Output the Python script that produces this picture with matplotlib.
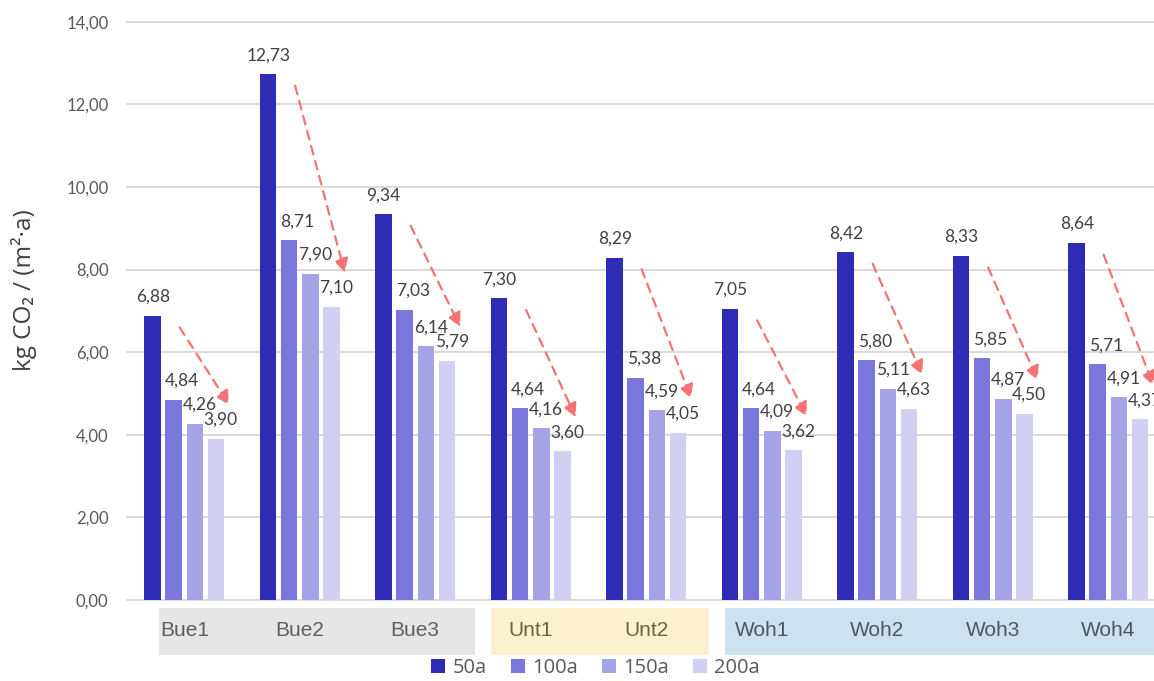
import matplotlib
matplotlib.use("Agg")
import matplotlib.pyplot as plt
from matplotlib.patches import Patch, Rectangle

plt.rcParams["font.family"] = ["Lato", "DejaVu Sans"]

# Embodied emissions per building and reference period
buildings = ["Bue1", "Bue2", "Bue3", "Unt1", "Unt2", "Woh1", "Woh2", "Woh3", "Woh4"]
periods = ["50a", "100a", "150a", "200a"]
v50 = [6.88, 12.73, 9.34, 7.30, 8.29, 7.05, 8.42, 8.33, 8.64]
v100 = [4.84, 8.71, 7.03, 4.64, 5.38, 4.64, 5.80, 5.85, 5.71]
v150 = [4.26, 7.90, 6.14, 4.16, 4.59, 4.09, 5.11, 4.87, 4.91]
v200 = [3.90, 7.10, 5.79, 3.60, 4.05, 3.62, 4.63, 4.50, 4.37]
series = [v50, v100, v150, v200]

y_ticks = [0, 2, 4, 6, 8, 10, 12, 14]

colors = ["#2E2BB5", "#7A77DC", "#A6A4E6", "#D1D0F2"]
label_dx = [0, 8, 5, 5]  # px shift of the value labels
group_style = {
    "Bue": dict(span=(-0.22, 2.52), face="#E6E6E6", text="#5E5E5E"),
    "Unt": dict(span=(2.66, 4.54), face="#FDF1CD", text="#6B6244"),
    "Woh": dict(span=(4.68, 9.5), face="#CDE2F0", text="#4B5661"),
}
arrow_color = "#F77272"


def fmt(v):
    return f"{v:.2f}".replace(".", ",")


W, H = 1154, 681
fig = plt.figure(figsize=(W / 100, H / 100), dpi=100)
ax_l, ax_r, ax_t, ax_b = 126.5, 1166.0, 21.7, 600.0
ax = fig.add_axes([ax_l / W, 1 - ax_b / H, (ax_r - ax_l) / W, (ax_b - ax_t) / H])

step = 0.182
width = 0.143
x = list(range(len(buildings)))
for i, (vals, c) in enumerate(zip(series, colors)):
    xs = [k + (i - 1.5) * step for k in x]
    ax.bar(xs, vals, width=width, color=c, zorder=3, label=periods[i])
    for xi, v in zip(xs, vals):
        ax.annotate(fmt(v), (xi, v), xytext=(label_dx[i], 14), textcoords="offset pixels",
                    ha="center", va="baseline", fontsize=12.5, color="#404040", zorder=5)

# dashed trend arrows from the 50a value down to the 200a value
for k in x:
    ax.annotate("", xy=(k + 0.39, v200[k] + 0.82), xytext=(k - 0.04, v50[k] - 0.28),
                arrowprops=dict(arrowstyle="-|>", color=arrow_color, lw=1.6,
                                linestyle=(0, (4, 3)), mutation_scale=21,
                                shrinkA=0, shrinkB=0),
                zorder=6)

ax.set_xlim(-0.5, 8.5)
ax.set_ylim(0, 14)
for t in y_ticks:
    ax.axhline(t, color="#D9D9D9", lw=1.4, zorder=1, clip_on=False)
ax.set_yticks(y_ticks)
ax.set_yticklabels([fmt(t) for t in y_ticks], fontsize=12, color="#595959")
ax.tick_params(axis="y", length=0, pad=13)
ax.set_xticks([])
for s in ax.spines.values():
    s.set_visible(False)

# grouped category bands below the axis
trans = ax.get_xaxis_transform()
ah = ax_b - ax_t
band_top = (ax_b - 608) / ah
band_bot = (ax_b - 655) / ah
text_y = (ax_b - 631) / ah
for k, name in enumerate(buildings):
    g = name[:3]
    st = group_style[g]
    if name == next(b for b in buildings if b.startswith(g)):
        x0, x1 = st["span"]
        ax.add_patch(Rectangle((x0, band_bot), x1 - x0, band_top - band_bot, transform=trans,
                               facecolor=st["face"], edgecolor="none", clip_on=False, zorder=0))
    ax.text(k, text_y, name, transform=trans, ha="center", va="center", fontsize=15,
            color=st["text"], family=["Liberation Sans", "DejaVu Sans"])

fig.text(24 / W, 1 - 290 / H, "kg CO₂ / (m²·a)", rotation=90, ha="center", va="center",
         fontsize=17.5, color="#404040", family=["Open Sans", "DejaVu Sans"])

handles = [Patch(facecolor=c, edgecolor="none") for c in colors]
fig.legend(handles, periods, loc="center", bbox_to_anchor=(595.5 / W, 1 - 668 / H), ncol=4,
           frameon=False, handlelength=0.7, handleheight=0.7,
           handletextpad=0.35, columnspacing=1.2, labelcolor="#595959",
           prop=dict(family=["Open Sans", "DejaVu Sans"], size=14.5))

fig.savefig("out.png", dpi=100)
